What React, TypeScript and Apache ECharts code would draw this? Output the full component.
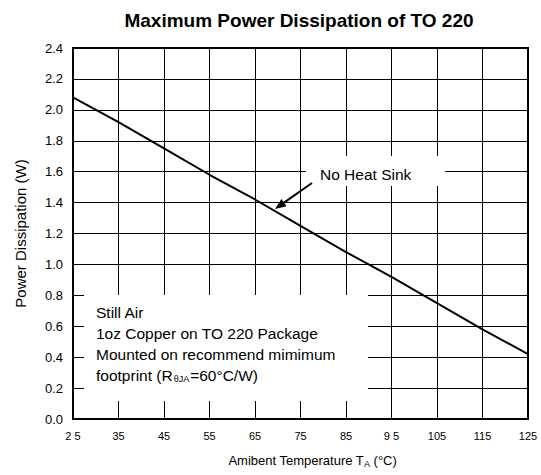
import React, { useEffect, useRef } from "react";
import * as echarts from "echarts";

const categories = ["2 5", "35", "45", "55", "65", "75", "85", "9 5", "105", "115", "125"];
const powerNoSink = [2.08, 1.92, 1.75, 1.58, 1.42, 1.25, 1.08, 0.92, 0.75, 0.58, 0.42];
const noteLines = ["Still Air", "1oz Copper on TO 220 Package", "Mounted on recommend mimimum"];

const FONT = "'Liberation Sans', Arial, Helvetica, sans-serif";

export default function App() {
  const ref = useRef<HTMLDivElement>(null);
  useEffect(() => {
    if (!ref.current) return;
    const chart = echarts.init(ref.current, null, { renderer: "svg" });
    const tip = [275, 209];
    const from = [312, 183];
    const dx = tip[0] - from[0];
    const dy = tip[1] - from[1];
    const len = Math.sqrt(dx * dx + dy * dy);
    const ux = dx / len, uy = dy / len;
    const hl = 11, hw = 4.5;
    const bx = tip[0] - hl * ux, by = tip[1] - hl * uy;
    const px = -uy * hw, py = ux * hw;

    chart.setOption({
      animation: false,
      backgroundColor: "#ffffff",
      textStyle: { fontFamily: FONT },
      title: {
        text: "Maximum Power Dissipation of TO 220",
        left: 294,
        top: 6,
        textAlign: "center",
        textStyle: { fontFamily: FONT, fontSize: 19, fontWeight: "bold", color: "#000" },
      },
      grid: {
        left: 73,
        right: 13,
        top: 48,
        bottom: 56,
        show: true,
        borderColor: "#000",
        borderWidth: 2,
        backgroundColor: "transparent",
        z: 3,
      },
      xAxis: {
        type: "category",
        data: categories,
        boundaryGap: false,
        axisLine: { show: false },
        axisTick: { show: false },
        axisLabel: { color: "#000", fontSize: 11, margin: 11, fontFamily: FONT, interval: 0 },
        splitLine: { show: true, interval: 0, lineStyle: { color: "#000", width: 1 } },
        name: "Amibent Temperature T{sub|A} (°C)",
        nameLocation: "middle",
        nameGap: 34,
        nameTextStyle: {
          color: "#000",
          fontSize: 13,
          fontFamily: FONT,
          padding: [0, 0, 0, 24],
          rich: { sub: { fontSize: 9, verticalAlign: "bottom", padding: [6, 0, 0, 0], fontFamily: FONT, color: "#000" } },
        },
      },
      yAxis: {
        type: "value",
        min: 0,
        max: 2.4,
        interval: 0.2,
        axisLine: { show: false },
        axisTick: { show: false },
        axisLabel: {
          color: "#000",
          fontSize: 13,
          margin: 10,
          fontFamily: FONT,
          formatter: (v: number) => v.toFixed(1),
        },
        splitLine: { show: true, lineStyle: { color: "#000", width: 1 } },
        name: "Power Dissipation (W)",
        nameLocation: "middle",
        nameGap: 45,
        nameTextStyle: { color: "#000", fontSize: 15, fontFamily: FONT },
      },
      series: [
        {
          type: "line",
          data: powerNoSink,
          showSymbol: false,
          symbol: "none",
          lineStyle: { color: "#000", width: 2 },
          z: 2,
        },
      ],
      graphic: [
        { type: "rect", shape: { x: 84, y: 295, width: 284, height: 106 }, style: { fill: "#fff" }, z: 50 },
        { type: "rect", shape: { x: 306, y: 156, width: 139, height: 30 }, style: { fill: "#fff" }, z: 50 },
        ...noteLines.map((t, i) => ({
          type: "text",
          x: 96,
          y: 312 + i * 21,
          z: 60,
          style: { text: t, fontSize: 15.5, fontFamily: FONT, fill: "#000", verticalAlign: "middle", align: "left" },
        })),
        {
          type: "text",
          x: 96,
          y: 375,
          z: 60,
          style: {
            text: "footprint (R{sub|θJA}=60°C/W)",
            fontSize: 15.5,
            fontFamily: FONT,
            fill: "#000",
            verticalAlign: "middle",
            align: "left",
            rich: { sub: { fontSize: 9, fontFamily: FONT, fill: "#000", padding: [7, 1, 0, 1] } },
          },
        },
        {
          type: "text",
          x: 320,
          y: 174,
          z: 60,
          style: { text: "No Heat Sink", fontSize: 15.5, fontFamily: FONT, fill: "#000", verticalAlign: "middle", align: "left" },
        },
        {
          type: "line",
          z: 60,
          shape: { x1: from[0], y1: from[1], x2: bx, y2: by },
          style: { stroke: "#000", lineWidth: 2 },
        },
        {
          type: "polygon",
          z: 60,
          shape: { points: [[tip[0], tip[1]], [bx + px, by + py], [bx - px, by - py]] },
          style: { fill: "#000" },
        },
      ],
    });
    return () => chart.dispose();
  }, []);
  return <div ref={ref} style={{ width: 541, height: 475, position: "absolute", left: 0, top: 0 }} />;
}
